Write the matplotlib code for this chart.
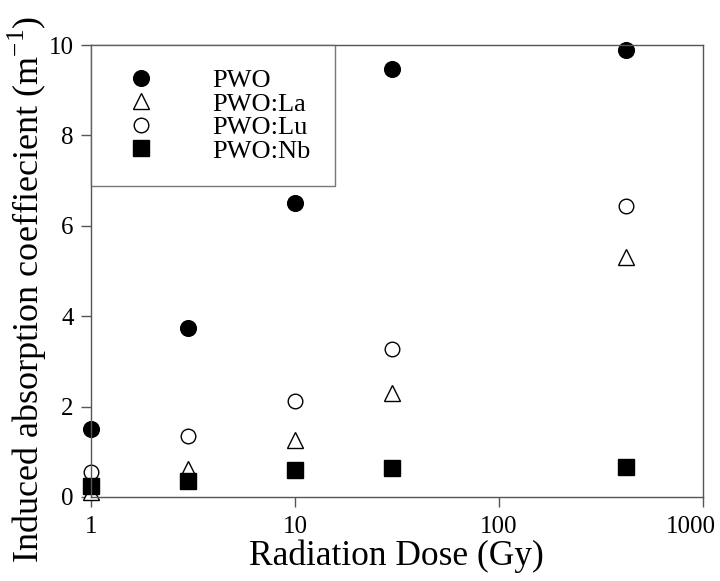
import numpy as np
import matplotlib.pyplot as plt
import matplotlib.transforms as mtransforms

plt.rcParams['font.family'] = ['Liberation Serif', 'DejaVu Serif']
plt.rcParams['mathtext.fontset'] = 'custom'
plt.rcParams['mathtext.rm'] = 'Liberation Serif'

dose = [1, 3, 10, 30, 420]
pwo = [1.50, 3.75, 6.50, 9.46, 9.90]
pwo_la = [0.12, 0.62, 1.25, 2.30, 5.30]
pwo_lu = [0.55, 1.36, 2.12, 3.28, 6.44]
pwo_nb = [0.24, 0.35, 0.60, 0.65, 0.66]

fig = plt.figure(figsize=(7.2, 5.81), dpi=100)
ax = fig.add_axes([0.1264, 0.1446, 0.8496, 0.7779])

ax.plot(dose, pwo, 'o', color='k', ms=11.3, label='PWO', clip_on=False)
ax.plot(dose, pwo_la, '^', mfc='white', mec='k', mew=1.0, ms=12, label='PWO:La', clip_on=False)
ax.plot(dose, pwo_lu, 'o', mfc='white', mec='k', mew=1.0, ms=10.5, label='PWO:Lu', clip_on=False)
ax.plot(dose, pwo_nb, 's', color='k', ms=12, label='PWO:Nb', clip_on=False)

ax.set_xscale('log')
ax.set_xlim(1, 1000)
ax.set_ylim(0, 10)
ax.set_xticks([1, 10, 100, 1000])
ax.set_xticklabels(['1', '10', '100', '1000'])
ax.xaxis.set_minor_locator(plt.NullLocator())
ax.set_yticks([0, 2, 4, 6, 8, 10])

for s in ax.spines.values():
    s.set_color('#555555')
    s.set_linewidth(1.0)
ax.tick_params(direction='out', length=7.5, width=1.0, color='#555555', labelsize=18)
ax.tick_params(axis='x', pad=6)
ax.tick_params(axis='y', pad=5)

# keep the last x label inside the figure
lab = ax.get_xticklabels()[-1]
lab.set_transform(lab.get_transform() + mtransforms.ScaledTranslation(-0.12, 0, fig.dpi_scale_trans))

ax.set_xlabel('Radiation Dose (Gy)', fontsize=25.5, labelpad=1)
ax.set_ylabel('Induced absorption coeffiecient (m$^{\\mathrm{-1}}$)', fontsize=26)
ax.yaxis.set_label_coords(-0.068, 0.46)

leg = ax.legend(loc='upper left', fontsize=19, frameon=True, fancybox=False,
                edgecolor='#555555', borderaxespad=0.0, borderpad=0.9,
                handletextpad=1.7, labelspacing=0.0, handlelength=2.0)
leg.get_frame().set_linewidth(1.0)

plt.savefig('out.png', dpi=100)
